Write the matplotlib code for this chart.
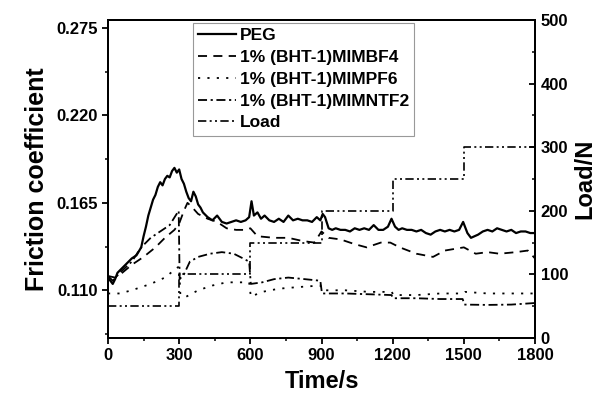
import numpy as np
import matplotlib.pyplot as plt
from matplotlib.ticker import MultipleLocator

plt.rcParams['font.family'] = ['Liberation Sans', 'DejaVu Sans']
plt.rcParams['font.weight'] = 'bold'
plt.rcParams['axes.labelweight'] = 'bold'

# PEG (solid)
t_peg = [0, 10, 20, 30, 40, 60, 80, 100, 120, 140, 150, 160, 170, 180, 190, 200, 210, 220, 230, 240,
         250, 260, 270, 280, 290, 300, 310, 320, 330, 340, 350, 360, 370, 380, 390, 400, 420, 440,
         460, 480, 500, 520, 540, 560, 580, 595, 605, 615, 630, 645, 660, 680, 700, 720, 740, 760,
         780, 800, 820, 840, 860, 880, 895, 905, 915, 930, 945, 960, 980, 1000, 1020, 1040, 1060,
         1080, 1100, 1120, 1140, 1160, 1180, 1195, 1210, 1225, 1240, 1260, 1280, 1300, 1320, 1340,
         1360, 1380, 1400, 1420, 1440, 1460, 1480, 1497, 1515, 1530, 1545, 1560, 1580, 1600, 1620,
         1640, 1660, 1680, 1700, 1720, 1740, 1760, 1780, 1800]
f_peg = [0.118, 0.116, 0.114, 0.117, 0.121, 0.124, 0.127, 0.130, 0.132, 0.137, 0.144, 0.150, 0.157,
         0.162, 0.167, 0.170, 0.175, 0.178, 0.176, 0.180, 0.182, 0.181, 0.185, 0.187, 0.184, 0.186,
         0.180, 0.177, 0.172, 0.168, 0.166, 0.172, 0.169, 0.164, 0.162, 0.159, 0.156, 0.154, 0.157,
         0.153, 0.152, 0.153, 0.154, 0.153, 0.154, 0.156, 0.166, 0.157, 0.159, 0.155, 0.157, 0.154,
         0.153, 0.155, 0.153, 0.157, 0.154, 0.155, 0.154, 0.154, 0.153, 0.156, 0.154, 0.158, 0.156,
         0.149, 0.148, 0.149, 0.148, 0.148, 0.147, 0.149, 0.148, 0.149, 0.148, 0.151, 0.148, 0.148,
         0.150, 0.155, 0.150, 0.148, 0.149, 0.148, 0.148, 0.147, 0.148, 0.146, 0.145, 0.147, 0.148,
         0.147, 0.148, 0.147, 0.148, 0.153, 0.146, 0.143, 0.144, 0.145, 0.147, 0.148, 0.147, 0.149,
         0.148, 0.147, 0.148, 0.146, 0.147, 0.147, 0.146, 0.146]

# 1% (BHT-1)MIMBF4 (dashed)
t_bf4 = [0, 30, 60, 100, 150, 200, 240, 280, 300, 320, 335, 350, 380, 420, 460, 500, 540, 580, 600,
         630, 700, 760, 820, 870, 900, 930, 980, 1040, 1090, 1150, 1190, 1230, 1300, 1370, 1420,
         1460, 1500, 1550, 1600, 1650, 1720, 1770, 1800]
f_bf4 = [0.119, 0.118, 0.121, 0.126, 0.131, 0.137, 0.143, 0.148, 0.152, 0.160, 0.165, 0.163, 0.158,
         0.155, 0.153, 0.149, 0.148, 0.148, 0.149, 0.144, 0.143, 0.143, 0.141, 0.140, 0.147, 0.143,
         0.142, 0.139, 0.137, 0.140, 0.140, 0.137, 0.133, 0.131, 0.135, 0.136, 0.137, 0.133, 0.134,
         0.133, 0.134, 0.135, 0.130]

# 1% (BHT-1)MIMPF6 (dotted)
t_pf6 = [0, 50, 100, 180, 240, 290, 300, 305, 330, 380, 440, 500, 560, 595, 602, 650, 720, 800,
         895, 905, 1000, 1100, 1195, 1205, 1300, 1400, 1495, 1505, 1600, 1700, 1800]
f_pf6 = [0.108, 0.108, 0.110, 0.114, 0.118, 0.124, 0.125, 0.107, 0.106, 0.110, 0.113, 0.115, 0.115,
         0.115, 0.106, 0.109, 0.111, 0.112, 0.113, 0.110, 0.110, 0.109, 0.109, 0.107, 0.107, 0.108,
         0.108, 0.109, 0.108, 0.108, 0.108]

# 1% (BHT-1)MIMNTF2 (dash-dot)
t_ntf2 = [0, 20, 50, 100, 140, 180, 220, 260, 285, 298, 302, 320, 345, 380, 430, 480, 530, 570,
          595, 602, 650, 700, 760, 830, 895, 902, 1000, 1100, 1195, 1202, 1300, 1400, 1495, 1502,
          1600, 1700, 1800]
f_ntf2 = [0.119, 0.116, 0.121, 0.128, 0.137, 0.143, 0.147, 0.151, 0.157, 0.160, 0.117, 0.120, 0.128,
          0.131, 0.133, 0.134, 0.133, 0.130, 0.128, 0.114, 0.115, 0.117, 0.118, 0.117, 0.116, 0.108,
          0.108, 0.1075, 0.107, 0.105, 0.105, 0.1045, 0.1045, 0.101, 0.1008, 0.101, 0.102]

# Load (dash-dot-dot), right axis
t_load = [0, 300, 600, 900, 1200, 1500, 1800]
load = [50, 100, 150, 200, 250, 300, 300]

fig = plt.figure(figsize=(6.04, 3.98), dpi=100)
ax = fig.add_axes([0.1788, 0.1508, 0.7070, 0.7989])
ax2 = ax.twinx()

l1, = ax.plot(t_peg, f_peg, color='black', lw=1.6, ls='-', label='PEG')
l2, = ax.plot(t_bf4, f_bf4, color='black', lw=1.3, ls=(0, (5, 3.5)), label='1% (BHT-1)MIMBF4')
l3, = ax.plot(t_pf6, f_pf6, color='black', lw=1.3, ls=(0, (1.2, 4)), label='1% (BHT-1)MIMPF6')
l4, = ax.plot(t_ntf2, f_ntf2, color='black', lw=1.3, ls=(0, (5, 2, 1.2, 2)), label='1% (BHT-1)MIMNTF2')
l5, = ax2.plot(t_load, load, color='black', lw=1.2, ls=(0, (5, 2, 1.2, 2, 1.2, 2)),
               drawstyle='steps-post', label='Load')

ax.set_xlim(0, 1800)
ax.set_ylim(0.08, 0.28)
ax2.set_ylim(0, 500)

ax.xaxis.set_major_locator(MultipleLocator(300))
ax.xaxis.set_minor_locator(MultipleLocator(150))
ax.yaxis.set_major_locator(MultipleLocator(0.055))
ax.yaxis.set_minor_locator(MultipleLocator(0.0275))
ax2.yaxis.set_major_locator(MultipleLocator(100))
ax2.yaxis.set_minor_locator(MultipleLocator(50))
ax.yaxis.set_major_formatter(plt.FormatStrFormatter('%.3f'))

for a in (ax, ax2):
    for s in a.spines.values():
        s.set_linewidth(1.4)
ax.tick_params(axis='both', which='major', direction='out', length=4, width=1.3, labelsize=12)
ax.tick_params(axis='both', which='minor', direction='out', length=2.5, width=1.1)
ax.tick_params(axis='x', pad=3)
ax2.tick_params(axis='y', which='major', direction='in', length=4, width=1.3, labelsize=12, pad=4)
ax2.tick_params(axis='y', which='minor', direction='in', length=2.5, width=1.1)

ax.set_xlabel('Time/s', fontsize=17, labelpad=5)
ax.set_ylabel('Friction coefficient', fontsize=18, labelpad=5)
ax2.set_ylabel('Load/N', fontsize=17, labelpad=4)

leg = ax.legend([l1, l2, l3, l4, l5], [h.get_label() for h in (l1, l2, l3, l4, l5)],
                loc='upper left', bbox_to_anchor=(0.3195, 0.9422), bbox_transform=fig.transFigure,
                borderaxespad=0, fontsize=12.5, frameon=True, fancybox=False, framealpha=1,
                edgecolor='#999999', handlelength=2.2, handletextpad=0.2, labelspacing=0.38,
                borderpad=0.3)
leg.get_frame().set_linewidth(0.8)
leg.set_zorder(5)

fig.savefig('out.png', dpi=100)
